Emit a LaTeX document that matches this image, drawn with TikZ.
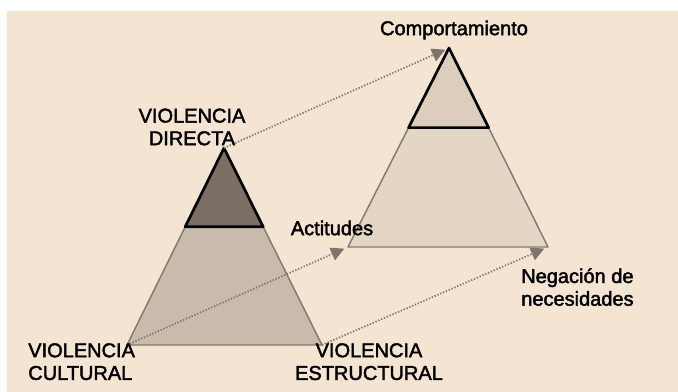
\documentclass[tikz,border=0pt]{standalone}
\usepackage{fontspec}
\setmainfont{Liberation Sans}[FakeBold=2]
\usetikzlibrary{arrows.meta}
\usetikzlibrary{calc}

\definecolor{fondo}{HTML}{F4E4D2}
\definecolor{piramideA}{HTML}{C8BBAB}
\definecolor{piramideB}{HTML}{E4D6C5}
\definecolor{cimaA}{HTML}{7A6E65}
\definecolor{cimaB}{HTML}{DCCDBC}
\definecolor{borde}{HTML}{857A70}
\definecolor{gris}{HTML}{7F746C}

\begin{document}
\begin{tikzpicture}[x=0.75pt,y=-0.75pt,
        etiqueta/.style={font=\fontsize{15}{17}\selectfont,inner sep=0pt},
        lado/.style={draw=borde,line width=1.1pt,line join=round},
        cima/.style={draw=black,line width=2pt,line join=round},
        flecha/.style={draw=gris,line width=1.3pt,dash pattern=on 1pt off 1.3pt,
            -{Triangle[length=10pt,width=10pt,fill=gris]},shorten >=3pt}]
        \useasboundingbox (0,0) rectangle (678,392);
        \fill[fondo] (7,11) rectangle (678,392);
        % violencia (izquierda)
        \coordinate (dirA) at (224,148);
        \coordinate (culA) at (127,345);
        \coordinate (estA) at (322,345);
        % comportamiento (derecha)
        \coordinate (dirB) at (449,48);
        \coordinate (culB) at (348,247);
        \coordinate (estB) at (548,247);
        \filldraw[lado,fill=piramideA] (dirA) -- (culA) -- (estA) -- cycle;
        \filldraw[cima,fill=cimaA] (dirA) -- ($(dirA)!0.4!(culA)$) -- ($(dirA)!0.4!(estA)$) -- cycle;
        \filldraw[lado,fill=piramideB] (dirB) -- (culB) -- (estB) -- cycle;
        \filldraw[cima,fill=cimaB] (dirB) -- ($(dirB)!0.4!(culB)$) -- ($(dirB)!0.4!(estB)$) -- cycle;
        \draw[flecha] (dirA) -- (dirB);
        \draw[flecha] (culA) -- (culB);
        \draw[flecha] (estA) -- (estB);
        \node[etiqueta,align=center] (directa) at (192,127) {VIOLENCIA\\DIRECTA};
        \node[etiqueta,anchor=north west,align=left] (cultural) at (28,343) {VIOLENCIA\\CULTURAL};
        \node[etiqueta,anchor=north,align=center] (estructural) at (369,343) {VIOLENCIA\\ESTRUCTURAL};
        \node[etiqueta] (comporta) at (454,30) {Comportamiento};
        \node[etiqueta] (actitudes) at (332,228) {Actitudes};
        \node[etiqueta,anchor=north west,align=left] (negacion) at (521,268) {Negación de\\necesidades};
\end{tikzpicture}
\end{document}
